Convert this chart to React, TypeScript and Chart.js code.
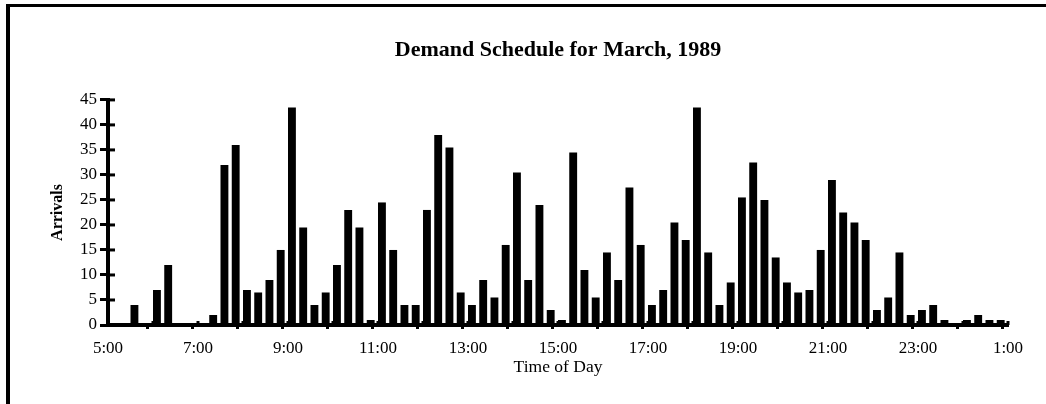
import React, { useEffect, useRef } from "react";
import { Chart, registerables } from "chart.js";

Chart.register(...registerables);

// Quarter-hour slots from 5:00 to 1:00
const hours = [5, 6, 7, 8, 9, 10, 11, 12, 13, 14, 15, 16, 17, 18, 19, 20, 21, 22, 23, 0];
const quarters = ["00", "15", "30", "45"];
const timeLabels: string[] = [];
hours.forEach((h) => quarters.forEach((q) => timeLabels.push(`${h}:${q}`)));
timeLabels.push("1:00");

const tickLabels = ["5:00", "7:00", "9:00", "11:00", "13:00", "15:00", "17:00", "19:00", "21:00", "23:00", "1:00"];

const arrivals: (number | null)[] = [
  0, 0, 4, 0, // 5
  7, 12, 0, 0, // 6
  0, 2, 32, 36, // 7
  7, 6.5, 9, 15, // 8
  43.5, 19.5, 4, 6.5, // 9
  12, 23, 19.5, 1, // 10
  24.5, 15, 4, 4, // 11
  23, 38, 35.5, 6.5, // 12
  4, 9, 5.5, 16, // 13
  30.5, 9, 24, 3, // 14
  1, 34.5, 11, 5.5, // 15
  14.5, 9, 27.5, 16, // 16
  4, 7, 20.5, 17, // 17
  43.5, 14.5, 4, 8.5, // 18
  25.5, 32.5, 25, 13.5, // 19
  8.5, 6.5, 7, 15, // 20
  29, 22.5, 20.5, 17, // 21
  3, 5.5, 14.5, 2, // 22
  3, 4, 1, 0, // 23
  1, 2, 1, 1, // 0
  null, // 1:00
];

const spacer: (number | null)[] = timeLabels.map(() => null);

const FONT = "'Liberation Serif', 'Times New Roman', serif";

const innerTicks = {
  id: "innerTicks",
  afterDatasetsDraw(chart: any) {
    const { ctx, chartArea, scales } = chart;
    ctx.save();
    ctx.strokeStyle = "#000";
    ctx.lineWidth = 3;
    scales.y.ticks.forEach((_t: any, i: number) => {
      const y = scales.y.getPixelForTick(i);
      ctx.beginPath();
      ctx.moveTo(chartArea.left, y);
      ctx.lineTo(chartArea.left + 7, y);
      ctx.stroke();
    });
    scales.x.ticks.forEach((_t: any, i: number) => {
      if (!timeLabels[i].endsWith(":00")) return;
      const x = scales.x.getPixelForTick(i);
      ctx.beginPath();
      ctx.moveTo(x, chartArea.bottom);
      ctx.lineTo(x, chartArea.bottom - 4);
      ctx.stroke();
    });
    ctx.restore();
  },
};

export default function App() {
  const ref = useRef<HTMLCanvasElement | null>(null);

  useEffect(() => {
    if (!ref.current) return;
    Chart.defaults.color = "#000";
    const chart = new Chart(ref.current, {
      type: "bar",
      data: {
        labels: timeLabels,
        datasets: [
          { label: "spacer", data: spacer, backgroundColor: "rgba(0,0,0,0)" },
          { label: "Arrivals", data: arrivals, backgroundColor: "#000", borderWidth: 0 },
        ],
      },
      options: {
        responsive: false,
        animation: false,
        layout: { padding: { left: 0, right: 38, top: 0, bottom: 20 } },
        datasets: { bar: { categoryPercentage: 1.4, barPercentage: 1.0 } },
        plugins: {
          legend: { display: false },
          tooltip: { enabled: false },
          title: {
            display: true,
            text: "Demand Schedule for March, 1989",
            fullSize: false,
            color: "#000",
            font: { family: FONT, size: 22, weight: "bold" },
            padding: { top: 37, bottom: 36.5 },
          },
        },
        scales: {
          x: {
            type: "category",
            offset: false,
            afterFit: (s: any) => {
              s.height = 59;
            },
            border: { display: true, color: "#000", width: 4 },
            grid: {
              drawOnChartArea: false,
              drawTicks: true,
              tickLength: 4,
              tickWidth: 3,
              color: (c: any) =>
                c.index !== undefined && timeLabels[c.index] && timeLabels[c.index].endsWith(":00")
                  ? "#000"
                  : "rgba(0,0,0,0)",
            },
            ticks: {
              autoSkip: false,
              maxRotation: 0,
              minRotation: 0,
              padding: 9,
              color: "#000",
              font: { family: FONT, size: 17 },
              callback: (_v: any, i: number) => (tickLabels.includes(timeLabels[i]) ? timeLabels[i] : ""),
            },
            title: {
              display: true,
              text: "Time of Day",
              color: "#000",
              font: { family: FONT, size: 17.5 },
              padding: { top: 0, bottom: 6.5 },
            },
          },
          y: {
            min: 0,
            max: 45,
            afterFit: (s: any) => {
              s.width = 108;
            },
            border: { display: true, color: "#000", width: 4 },
            grid: {
              drawOnChartArea: false,
              drawTicks: true,
              tickLength: 8,
              tickWidth: 3,
              color: "#000",
            },
            ticks: {
              stepSize: 5,
              padding: 3,
              color: "#000",
              font: { family: FONT, size: 17 },
            },
            title: {
              display: true,
              text: "Arrivals",
              color: "#000",
              font: { family: FONT, size: 16, weight: "bold" },
              padding: { top: 48, bottom: 0 },
            },
          },
        },
      },
      plugins: [innerTicks],
    });
    return () => chart.destroy();
  }, []);

  return (
    <div style={{ position: "absolute", left: 0, top: 0, width: 1046, height: 404, background: "#fff", overflow: "hidden" }}>
      <div
        style={{
          position: "absolute",
          left: 6,
          top: 4,
          width: 1046,
          height: 404,
          borderLeft: "4px solid #000",
          borderTop: "3px solid #000",
        }}
      />
      <canvas ref={ref} width={1046} height={404} style={{ position: "absolute", left: 0, top: 0, width: 1046, height: 404 }} />
    </div>
  );
}
